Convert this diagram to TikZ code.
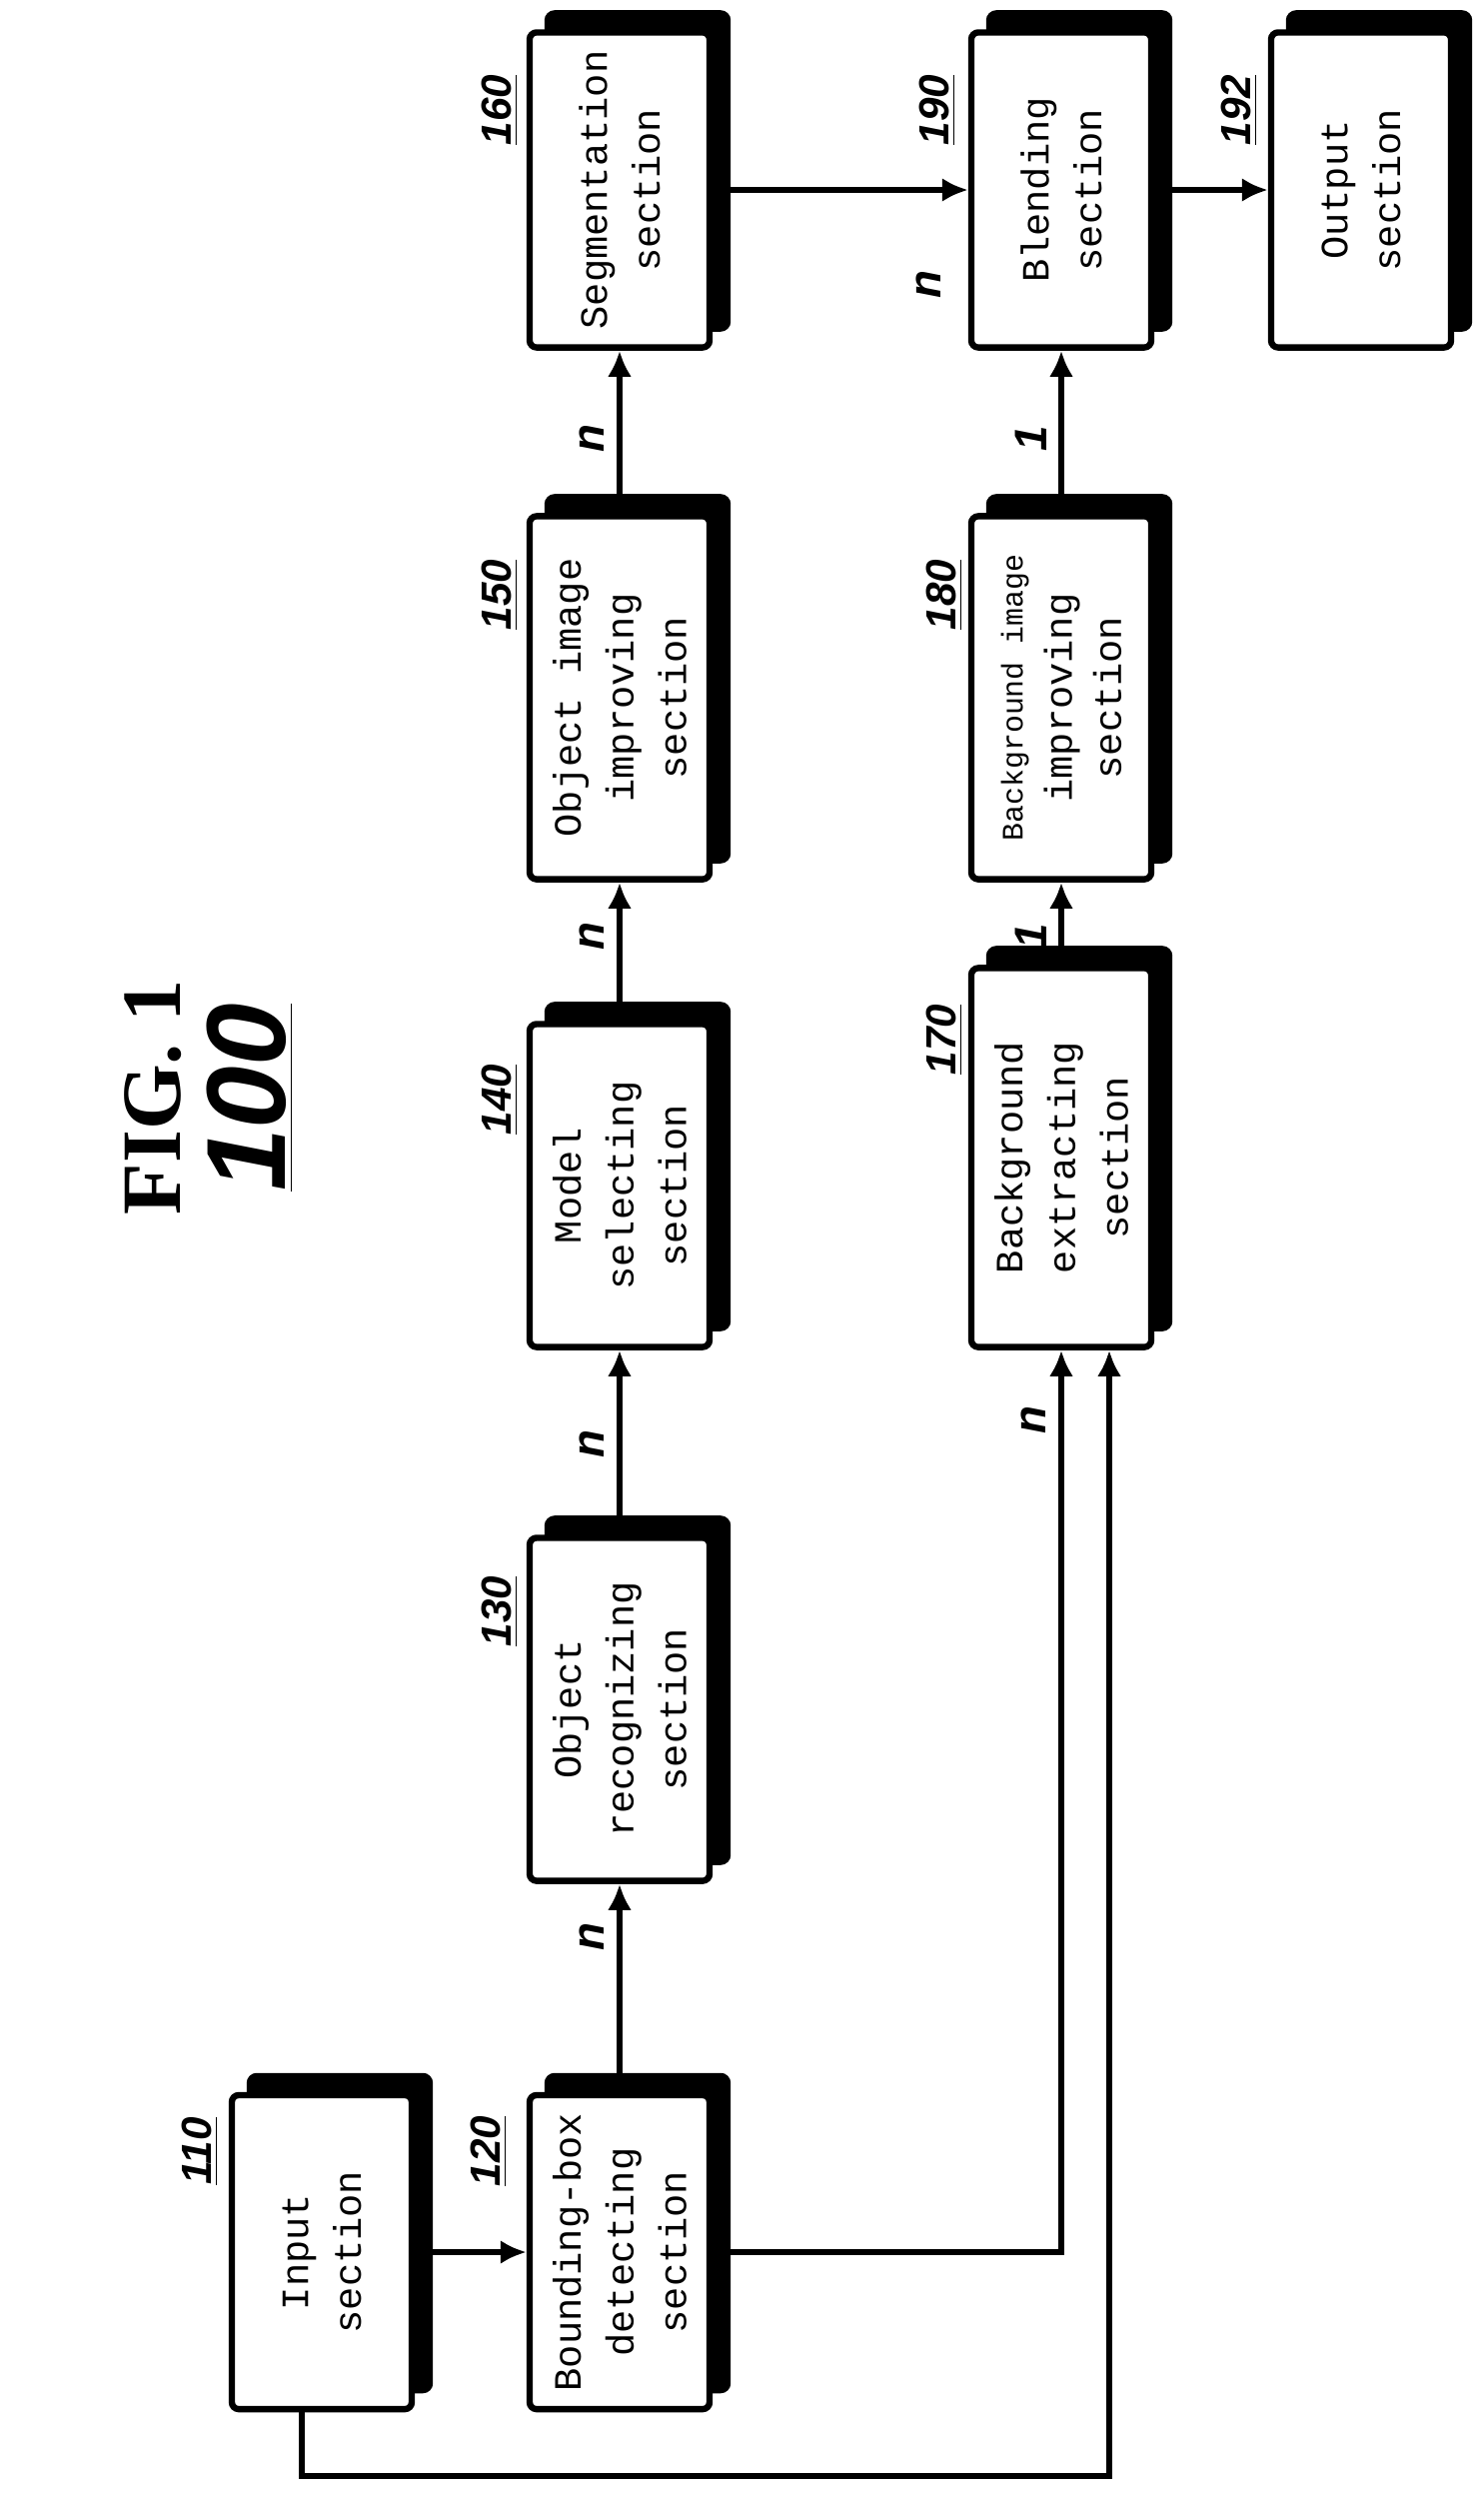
\documentclass[tikz,border=0pt]{standalone}
\usepackage{fontspec}
\setmainfont{Liberation Serif}
\setsansfont{Liberation Sans}
\setmonofont{Liberation Mono}
\usetikzlibrary{arrows.meta}
\begin{document}
\begin{tikzpicture}[x=0.01cm,y=-0.01cm,
  box/.style={draw,line width=1.8pt,rounded corners=2pt,fill=white,minimum width=1.80cm,
    preaction={fill=black,draw=black,line width=1.8pt,transform canvas={shift={(0.18cm,0.19cm)}}}},
  txt/.style={rotate=90,align=center,font=\ttfamily\fontsize{11}{15}\selectfont},
  num/.style={rotate=90,font=\sffamily\bfseries\itshape\fontsize{12}{14}\selectfont},
  lab/.style={rotate=90,font=\sffamily\bfseries\itshape\fontsize{13}{15}\selectfont},
  arr/.style={line width=1.8pt,-{Latex[length=2.6mm,width=2.4mm]}},
  ln/.style={line width=1.8pt}]
\useasboundingbox (0,0) rectangle (1484,2520);
\node[box,minimum height=3.14cm] (inp) at (322,2253) {};
\node[box,minimum height=3.14cm] (bb) at (620,2253) {};
\node[box,minimum height=3.43cm] (ore) at (620,1710) {};
\node[box,minimum height=3.23cm] (mdl) at (620,1186) {};
\node[box,minimum height=3.63cm] (oii) at (620,698) {};
\node[box,minimum height=3.15cm] (seg) at (620,190) {};
\node[box,minimum height=3.79cm] (bge) at (1062,1158) {};
\node[box,minimum height=3.63cm] (bii) at (1062,698) {};
\node[box,minimum height=3.15cm] (bln) at (1062,190) {};
\node[box,minimum height=3.15cm] (out) at (1362,190) {};
\node[txt] (tinp) at (inp) {Input\\section};
\node[txt] (tbb) at (bb) {Bounding-box\\detecting\\section};
\node[txt] (tore) at (ore) {Object\\recognizing\\section};
\node[txt] (tmdl) at (mdl) {Model\\selecting\\section};
\node[txt] (toii) at (oii) {Object image\\improving\\section};
\node[txt] (tseg) at (seg) {Segmentation\\section};
\node[txt] (tbge) at (bge) {Background\\extracting\\section};
\node[txt,font=\ttfamily\fontsize{8.5}{14}\selectfont] (tbii) at (bii) {Background image\\\fontsize{11}{15}\selectfont improving\\\fontsize{11}{15}\selectfont section};
\node[txt] (tbln) at (bln) {Blending\\section};
\node[txt] (tout) at (out) {Output\\section};
\draw[arr] (inp) -- (bb);
\draw[arr] (bb) -- (ore);
\draw[arr] (ore) -- (mdl);
\draw[arr] (mdl) -- (oii);
\draw[arr] (oii) -- (seg);
\draw[arr] (bge) -- (bii);
\draw[arr] (bii) -- (bln);
\draw[arr] (seg) -- (bln);
\draw[arr] (bln) -- (out);
\draw[arr] (bb.east) -| (bge.south);
\coordinate (fb) at (302,2477);
\draw[arr] (inp.south -| fb) -- (fb) -| ([xshift=0.48cm]bge.south);
\node[lab] (n1) at (592,1938) {n};
\node[lab] (n2) at (592,1445) {n};
\node[lab] (n3) at (592,937) {n};
\node[lab] (n4) at (592,439) {n};
\node[lab] (n5) at (1034,1421) {n};
\node[lab] (o1) at (1032,937) {1};
\node[lab] (o2) at (1032,439) {1};
\node[lab] (n6) at (929,285) {n};
\node[num] (l110) at (200,2152) {\underline{110}};
\node[num] (l120) at (489,2152) {\underline{120}};
\node[num] (l130) at (500,1612) {\underline{130}};
\node[num] (l140) at (500,1100) {\underline{140}};
\node[num] (l150) at (500,595) {\underline{150}};
\node[num] (l160) at (500,110) {\underline{160}};
\node[num] (l170) at (945,1040) {\underline{170}};
\node[num] (l180) at (945,595) {\underline{180}};
\node[num] (l190) at (938,110) {\underline{190}};
\node[num] (l192) at (1240,110) {\underline{192}};
\node[rotate=90,font=\bfseries\fontsize{24}{28}\selectfont] (fig) at (153,1098) {FIG. 1};
\node[rotate=90,font=\sffamily\bfseries\itshape\fontsize{32}{36}\selectfont] (hund) at (250,1098) {\underline{100}};
\end{tikzpicture}
\end{document}
